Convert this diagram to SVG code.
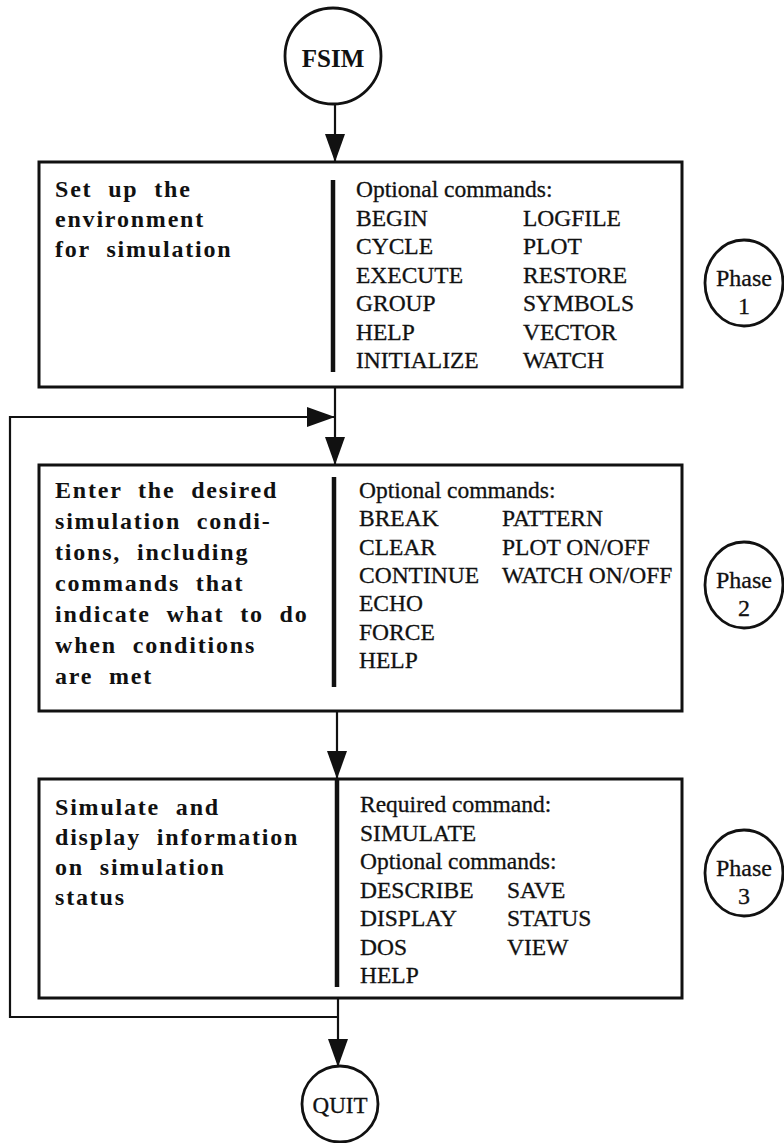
<svg xmlns="http://www.w3.org/2000/svg" width="784" height="1143" viewBox="0 0 784 1143">
<defs>
<style>
.bx{fill:none;stroke:#111;stroke-width:3}
.dv{stroke:#111;stroke-width:4.5}
.cn{fill:none;stroke:#111;stroke-width:2.2}
.ci{fill:#fff;stroke:#111;stroke-width:2.8}
.b{font-family:"Liberation Serif","Times New Roman",serif;font-weight:bold;font-size:24px;letter-spacing:1.8px;word-spacing:8px;fill:#111}
.r{font-family:"Liberation Serif","Times New Roman",serif;font-size:23.5px;fill:#111;stroke:#111;stroke-width:0.3}
.ph{font-family:"Liberation Serif","Times New Roman",serif;font-size:24px;fill:#111;stroke:#111;stroke-width:0.3;text-anchor:middle}
</style>
<marker id="ah" markerUnits="userSpaceOnUse" markerWidth="28" markerHeight="20" refX="28" refY="10" orient="auto">
<path d="M0,0 L28,10 L0,20 z" fill="#111"/>
</marker>
</defs>
<rect width="784" height="1143" fill="#fff"/>

<g id="connectors">
<path class="cn" d="M335,104 V162" marker-end="url(#ah)"/>
<path class="cn" d="M335,387 V465" marker-end="url(#ah)"/>
<path class="cn" d="M337,711 V779" marker-end="url(#ah)"/>
<path class="cn" d="M338,998 V1067" marker-end="url(#ah)"/>
<path class="cn" d="M338,1017 H10 V417 H335" marker-end="url(#ah)"/>
</g>

<g id="fsim">
<circle class="ci" cx="333" cy="56" r="48"/>
<text x="333" y="67" text-anchor="middle" style="font-family:'Liberation Serif','Times New Roman',serif;font-weight:bold;font-size:25px;fill:#111">FSIM</text>
</g>

<g id="phase1-box">
<rect class="bx" x="39" y="162" width="643" height="225"/>
<line class="dv" x1="333" y1="180" x2="333" y2="372"/>
<text class="b" x="55" y="197">Set up the</text>
<text class="b" x="55" y="227">environment</text>
<text class="b" x="55" y="257">for simulation</text>
<text class="r" x="356" y="197">Optional commands:</text>
<text class="r" x="356" y="225.5">BEGIN</text>
<text class="r" x="356" y="254">CYCLE</text>
<text class="r" x="356" y="282.5">EXECUTE</text>
<text class="r" x="356" y="311">GROUP</text>
<text class="r" x="356" y="339.5">HELP</text>
<text class="r" x="356" y="368">INITIALIZE</text>
<text class="r" x="523" y="225.5">LOGFILE</text>
<text class="r" x="523" y="254">PLOT</text>
<text class="r" x="523" y="282.5">RESTORE</text>
<text class="r" x="523" y="311">SYMBOLS</text>
<text class="r" x="523" y="339.5">VECTOR</text>
<text class="r" x="523" y="368">WATCH</text>
</g>

<g id="phase1">
<ellipse class="ci" cx="744" cy="283" rx="39" ry="43"/>
<text class="ph" x="744" y="286">Phase</text>
<text class="ph" x="744" y="314">1</text>
</g>

<g id="phase2-box">
<rect class="bx" x="39" y="465" width="643" height="246"/>
<line class="dv" x1="334" y1="477" x2="334" y2="687"/>
<text class="b" x="55" y="498">Enter the desired</text>
<text class="b" x="55" y="529">simulation condi-</text>
<text class="b" x="55" y="560">tions, including</text>
<text class="b" x="55" y="591">commands that</text>
<text class="b" x="55" y="622">indicate what to do</text>
<text class="b" x="55" y="653">when conditions</text>
<text class="b" x="55" y="684">are met</text>
<text class="r" x="359" y="498">Optional commands:</text>
<text class="r" x="359" y="526.3">BREAK</text>
<text class="r" x="359" y="554.6">CLEAR</text>
<text class="r" x="359" y="583">CONTINUE</text>
<text class="r" x="359" y="611">ECHO</text>
<text class="r" x="359" y="639.5">FORCE</text>
<text class="r" x="359" y="668">HELP</text>
<text class="r" x="502" y="526.3">PATTERN</text>
<text class="r" x="502" y="554.6">PLOT ON/OFF</text>
<text class="r" x="502" y="583">WATCH ON/OFF</text>
</g>

<g id="phase2">
<ellipse class="ci" cx="744" cy="585" rx="39" ry="43"/>
<text class="ph" x="744" y="588">Phase</text>
<text class="ph" x="744" y="616">2</text>
</g>

<g id="phase3-box">
<rect class="bx" x="39" y="779" width="643" height="219"/>
<line class="dv" x1="337" y1="779" x2="337" y2="987"/>
<text class="b" x="55" y="815">Simulate and</text>
<text class="b" x="55" y="845">display information</text>
<text class="b" x="55" y="875">on simulation</text>
<text class="b" x="55" y="905">status</text>
<text class="r" x="360" y="812">Required command:</text>
<text class="r" x="360" y="840.5">SIMULATE</text>
<text class="r" x="360" y="869">Optional commands:</text>
<text class="r" x="360" y="897.5">DESCRIBE</text>
<text class="r" x="360" y="926">DISPLAY</text>
<text class="r" x="360" y="954.5">DOS</text>
<text class="r" x="360" y="983">HELP</text>
<text class="r" x="507" y="897.5">SAVE</text>
<text class="r" x="507" y="926">STATUS</text>
<text class="r" x="507" y="954.5">VIEW</text>
</g>

<g id="phase3">
<ellipse class="ci" cx="744" cy="873" rx="39" ry="43"/>
<text class="ph" x="744" y="876">Phase</text>
<text class="ph" x="744" y="904">3</text>
</g>

<g id="quit">
<ellipse class="ci" cx="340" cy="1104" rx="38" ry="38"/>
<text x="340" y="1113" text-anchor="middle" style="font-family:'Liberation Serif','Times New Roman',serif;font-size:23px;fill:#111;stroke:#111;stroke-width:0.3">QUIT</text>
</g>
</svg>
